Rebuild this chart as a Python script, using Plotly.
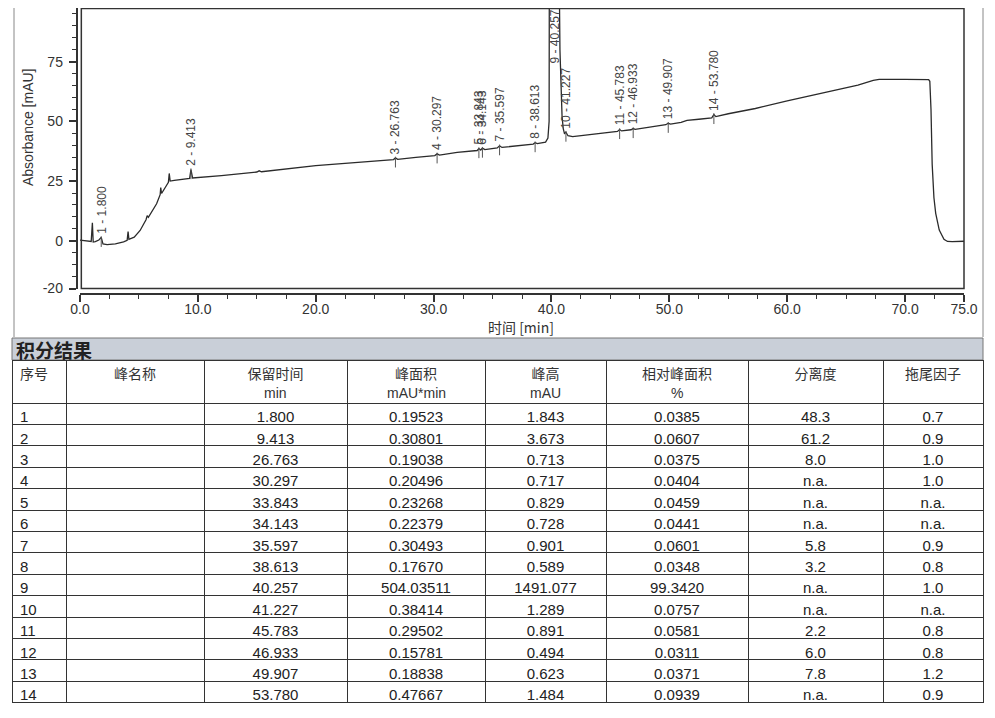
import numpy as np
import plotly.graph_objects as go

# ---------------- chromatogram signal ----------------
time_min = [0.0, 0.5, 0.95, 1.05, 1.12, 1.3, 1.6, 1.8, 1.95, 2.3, 3.0, 3.7, 4.0, 4.08, 4.15,
            4.6, 5.1, 5.6, 5.7, 5.8, 6.2, 6.5, 6.8, 6.85, 6.92, 7.2, 7.5, 7.57, 7.65, 8.0,
            9.0, 9.3, 9.413, 9.55, 12.0, 15.0, 15.2, 15.4, 20.0, 23.0, 26.6, 26.763, 26.95,
            28.5, 30.1, 30.297, 30.5, 32.0, 33.7, 33.843, 34.0, 34.143, 34.35, 35.4, 35.597,
            35.8, 37.0, 38.45, 38.613, 38.8, 39.5, 39.7, 39.8, 39.88, 39.95, 40.05, 40.15,
            40.257, 40.35, 40.45, 40.55, 40.65, 40.72, 40.8, 40.9, 41.0, 41.1, 41.227, 41.4,
            41.8, 43.0, 44.5, 45.6, 45.783, 45.95, 46.75, 46.933, 47.1, 48.5, 49.7, 49.907,
            50.1, 51.0, 51.5, 52.5, 53.6, 53.78, 53.95, 55.0, 56.5, 56.8, 57.3, 60.0, 62.0,
            63.0, 65.0, 66.0, 67.3, 67.8, 70.0, 72.0, 72.1, 72.2, 72.3, 72.45, 72.6, 72.9,
            73.3, 73.6, 74.0, 74.5, 75.0]
absorbance = [0.3, 0.0, -0.3, 7.5, -0.5, -0.4, 0.3, 1.4, -1.3, -1.6, -1.3, -0.5, 0.2, 3.8, 0.6,
              1.5, 4.3, 8.8, 10.5, 9.8, 13.0, 15.5, 19.3, 22.3, 19.8, 22.3, 24.5, 28.2, 25.0, 25.3,
              25.9, 26.1, 29.8, 26.3, 27.3, 28.8, 29.3, 28.9, 31.5, 32.6, 34.0, 34.7, 34.1,
              34.9, 35.7, 36.4, 35.9, 37.0, 37.8, 38.6, 38.0, 38.8, 38.2, 38.9, 39.8,
              39.1, 39.8, 40.5, 41.1, 40.7, 41.3, 43.0, 50.0, 80.0, 150.0, 600.0, 1200.0,
              1532.0, 1250.0, 700.0, 300.0, 115.0, 80.0, 62.0, 52.0, 47.0, 45.0, 45.5, 44.0,
              43.6, 44.2, 45.0, 45.8, 46.6, 46.0, 46.5, 47.0, 46.7, 47.7, 48.6, 49.2,
              48.9, 49.6, 50.4, 50.9, 51.5, 52.9, 52.0, 53.2, 54.6, 55.2, 55.4, 58.6, 60.8,
              62.0, 64.0, 65.2, 67.2, 67.6, 67.6, 67.5, 66.8, 55.0, 32.0, 18.0, 11.5, 4.5,
              0.6, -0.3, -0.4, -0.3, -0.2]

# ---------------- integration results table ----------------
peak_no = list(range(1, 15))
peak_name = [""] * 14
ret_time = [1.800, 9.413, 26.763, 30.297, 33.843, 34.143, 35.597, 38.613, 40.257, 41.227,
            45.783, 46.933, 49.907, 53.780]
peak_area = [0.19523, 0.30801, 0.19038, 0.20496, 0.23268, 0.22379, 0.30493, 0.17670,
             504.03511, 0.38414, 0.29502, 0.15781, 0.18838, 0.47667]
peak_height = [1.843, 3.673, 0.713, 0.717, 0.829, 0.728, 0.901, 0.589, 1491.077, 1.289,
               0.891, 0.494, 0.623, 1.484]
rel_area = [0.0385, 0.0607, 0.0375, 0.0404, 0.0459, 0.0441, 0.0601, 0.0348, 99.3420,
            0.0757, 0.0581, 0.0311, 0.0371, 0.0939]
resolution = ["48.3", "61.2", "8.0", "n.a.", "n.a.", "n.a.", "5.8", "3.2", "n.a.", "n.a.",
              "2.2", "6.0", "7.8", "n.a."]
tailing = ["0.7", "0.9", "1.0", "1.0", "n.a.", "n.a.", "0.9", "0.8", "1.0", "n.a.",
           "0.8", "0.8", "1.2", "0.9"]

col_names = ["序号", "峰名称", "保留时间", "峰面积", "峰高", "相对峰面积", "分离度", "拖尾因子"]
col_units = ["", "", "min", "mAU*min", "mAU", "%", "", ""]

x_tickvals = [0, 10, 20, 30, 40, 50, 60, 70, 75]
y_tickvals = [-20, 0, 25, 50, 75, 100]

# The page body has an 8px margin, so the figure is drawn 8px in from the corner.
OFF = 8
W, H = 995 - OFF, 718 - OFF
def px_x(p):   # reference-picture pixel -> paper coordinate
    return (p - OFF) / W
def px_y(p):
    return 1 - (p - OFF) / H

LINE = "#333333"
FONT = "Liberation Sans, Arial, Noto Sans CJK SC, sans-serif"
CJK = "Noto Sans CJK SC, Liberation Sans, sans-serif"

fig = go.Figure()

fig.add_trace(go.Scatter(x=time_min, y=absorbance, mode="lines",
                         line=dict(color="#2b2b2b", width=1.3), hoverinfo="skip",
                         showlegend=False))

Y_TOP = 97.5

# peak marker ticks below the signal (not for the off-scale main peak)
mx, my = [], []
for rt in ret_time:
    yb = float(np.interp(rt, time_min, absorbance))
    if yb > Y_TOP:
        continue
    mx += [rt, rt, None]
    my += [yb + 0.5, yb - 4.0, None]
fig.add_trace(go.Scatter(x=mx, y=my, mode="lines", line=dict(color="#555555", width=1),
                         hoverinfo="skip", showlegend=False, connectgaps=False))

# peak labels
for i, rt in enumerate(ret_time):
    txt = f"{peak_no[i]} - {rt:.3f}"
    yb = float(np.interp(rt, time_min, absorbance))
    if yb > Y_TOP:
        fig.add_annotation(x=rt, y=Y_TOP, text=txt, textangle=-90, showarrow=False,
                           xanchor="center", yanchor="top", xref="x", yref="y",
                           font=dict(family=FONT, size=12, color="#444"))
    else:
        fig.add_annotation(x=rt, y=yb + 0.8, text=txt, textangle=-90, showarrow=False,
                           xanchor="center", yanchor="bottom", xref="x", yref="y",
                           font=dict(family=FONT, size=12, color="#444"))

fig.update_layout(
    width=W, height=H,
    margin=dict(l=0, r=0, t=0, b=0),
    paper_bgcolor="white", plot_bgcolor="white",
    showlegend=False,
    xaxis=dict(domain=[px_x(80), px_x(964)], range=[0, 75], anchor="free",
               position=px_y(294), showline=True, linecolor=LINE, linewidth=1.5,
               ticks="outside", ticklen=7, tickwidth=1.5, tickcolor=LINE,
               tickmode="array", tickvals=x_tickvals,
               ticktext=[f"{v:.1f}" for v in x_tickvals],
               tickfont=dict(family=FONT, size=14, color="#333"),
               ticklabelstandoff=-5,
               minor=dict(tickmode="linear", tick0=0, dtick=2.5, ticks="outside",
                          ticklen=4, tickcolor=LINE, tickwidth=1.2, showgrid=False),
               showgrid=False, zeroline=False, automargin=False),
    yaxis=dict(domain=[px_y(288.5), 1], range=[-20, Y_TOP], anchor="free",
               position=px_x(76.5), showline=True, linecolor=LINE, linewidth=1.5,
               ticks="outside", ticklen=7, tickwidth=1.5, tickcolor=LINE,
               tickmode="array", tickvals=y_tickvals,
               ticktext=[str(v) for v in y_tickvals],
               tickfont=dict(family=FONT, size=14, color="#333"),
               ticklabelstandoff=3,
               minor=dict(tickmode="linear", tick0=0, dtick=5, ticks="outside",
                          ticklen=4, tickcolor=LINE, tickwidth=1.2, showgrid=False),
               showgrid=False, zeroline=False, automargin=False),
)

# plot frame
fig.add_shape(type="rect", xref="x domain", yref="y domain", x0=0.0015, x1=1, y0=0, y1=0.998,
              line=dict(color=LINE, width=1.5), layer="above")
# outer page border lines
for xp in (14, 983):
    fig.add_shape(type="line", xref="paper", yref="paper", x0=px_x(xp), x1=px_x(xp),
                  y0=1, y1=px_y(337), line=dict(color="#888", width=1))

# axis titles
fig.add_annotation(x=px_x(521), y=px_y(327), xref="paper", yref="paper", text="时间 [min]",
                   showarrow=False, xanchor="center", yanchor="middle",
                   font=dict(family=CJK, size=14, color="#333"))
fig.add_annotation(x=px_x(28), y=px_y(127), xref="paper", yref="paper",
                   text="Absorbance [mAU]", textangle=-90, showarrow=False,
                   xanchor="center", yanchor="middle",
                   font=dict(family=FONT, size=14, color="#333"))

# table title bar
TBL_X0, TBL_X1 = 12, 983
fig.add_shape(type="rect", xref="paper", yref="paper", x0=px_x(TBL_X0), x1=px_x(TBL_X1),
              y0=px_y(360), y1=px_y(338), fillcolor="#c9cfd8",
              line=dict(color="#777", width=1), layer="below")
fig.add_annotation(x=px_x(14), y=px_y(349), xref="paper", yref="paper", text="<b>积分结果</b>",
                   showarrow=False, xanchor="left", yanchor="middle",
                   font=dict(family=CJK, size=19, color="#222"))

col_w = [54, 138, 143, 138, 121, 142, 135, 100]
fig.add_trace(go.Table(
    domain=dict(x=[px_x(TBL_X0), px_x(TBL_X1)], y=[px_y(708), px_y(360)]),
    columnwidth=col_w,
    header=dict(values=col_names, height=43,
                align=["left"] + ["center"] * 7,
                line=dict(color="#333", width=1), fill=dict(color="white"),
                font=dict(family=CJK, size=14, color="#333")),
    cells=dict(values=[[str(v) for v in peak_no], peak_name,
                       [f"{v:.3f}" for v in ret_time],
                       [f"{v:.5f}" for v in peak_area],
                       [f"{v:.3f}" for v in peak_height],
                       [f"{v:.4f}" for v in rel_area],
                       resolution, tailing],
               height=21.4, align=["left"] + ["center"] * 7,
               line=dict(color="#333", width=1), fill=dict(color="white"),
               font=dict(family=FONT, size=15, color="#222")),
))

# second header line (units), centred in each column
scale = (TBL_X1 - TBL_X0) / sum(col_w)
left = TBL_X0
for w, u in zip(col_w, col_units):
    if u:
        fig.add_annotation(x=px_x(left + w * scale / 2), y=px_y(393), xref="paper", yref="paper",
                           text=u, showarrow=False, xanchor="center", yanchor="middle",
                           font=dict(family=FONT, size=14, color="#333"))
    left += w * scale

fig.write_html("out.html")
